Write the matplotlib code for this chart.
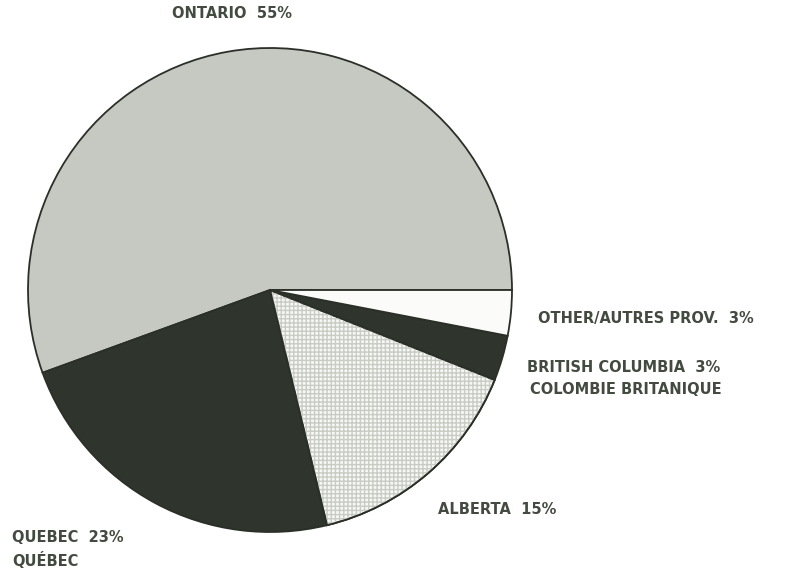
import matplotlib.pyplot as plt
import matplotlib.patches as mpatches

# share by province (percent)
provinces = ["ONTARIO", "QUEBEC", "ALBERTA", "BRITISH COLUMBIA", "OTHER/AUTRES PROV."]
shares = [55, 23, 15, 3, 3]
colors = ["#c6c9c2", "#2f352c", "#f7f8f5", "#2f352c", "#fbfbf9"]

txt_color = "#434a40"

fig = plt.figure(figsize=(7.98, 5.73), dpi=100)
ax = fig.add_axes([28 / 798, 1 - 532 / 573, 484 / 798, 484 / 573])
ax.set_aspect("equal")

wedges, _ = ax.pie(shares, colors=colors, startangle=0, counterclock=True,
                   radius=1.0,
                   wedgeprops=dict(edgecolor="#2a2f28", linewidth=1.3))

# fine grid texture on the Alberta slice
w = wedges[2]
hatch = mpatches.Wedge(w.center, w.r, w.theta1, w.theta2, facecolor="none",
                       edgecolor="#c9ccc5", hatch="++++", linewidth=0)
ax.add_patch(hatch)
outline = mpatches.Wedge(w.center, w.r, w.theta1, w.theta2, facecolor="none",
                         edgecolor="#2a2f28", linewidth=1.3)
ax.add_patch(outline)

ax.set_xlim(-1.0, 1.0)
ax.set_ylim(-1.0, 1.0)
ax.axis("off")

def label(x, y, s, ha="left"):
    fig.text(x / 798, 1 - y / 573, s, ha=ha, va="center", fontsize=10.5,
             fontweight="bold", color=txt_color, family="DejaVu Sans")

label(232, 14, "ONTARIO  %d%%" % shares[0], ha="center")
label(538, 319, "OTHER/AUTRES PROV.  %d%%" % shares[4])
label(527, 368, "BRITISH COLUMBIA  %d%%" % shares[3])
label(530, 389, "COLOMBIE BRITANIQUE")
label(438, 509, "ALBERTA  %d%%" % shares[2])
label(12, 538, "QUEBEC  %d%%" % shares[1])
label(12, 560, "QUÉBEC")

fig.savefig("out.png", dpi=100)
